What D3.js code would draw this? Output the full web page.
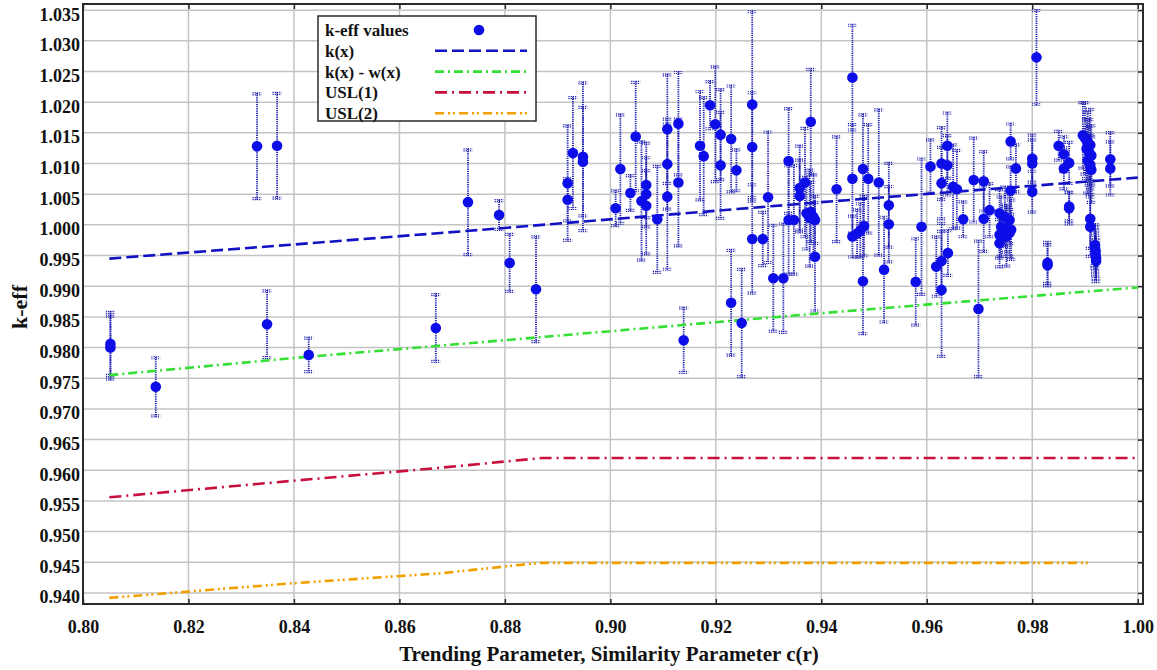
<!DOCTYPE html>
<html>
<head>
<meta charset="utf-8">
<script src="https://cdn.jsdelivr.net/npm/d3@7"></script>
<style>
body { margin: 0; background: #fff; }
text { font-family: "Liberation Serif", "Times New Roman", serif; font-weight: bold; }
</style>
</head>
<body>
<svg id="chart" width="1157" height="670"></svg>
<script>
//DATA/////////////////////////////////
var xTicks = [0.80, 0.82, 0.84, 0.86, 0.88, 0.90, 0.92, 0.94, 0.96, 0.98, 1.00];
var yTicks = [0.940, 0.945, 0.950, 0.955, 0.960, 0.965, 0.970, 0.975, 0.980, 0.985,
  0.990, 0.995, 1.000, 1.005, 1.010, 1.015, 1.020, 1.025, 1.030, 1.035];

// k-eff values: c(r), k-eff, 1 sigma
var keffX = [0.8052, 0.8052, 0.8138, 0.8330, 0.8368, 0.8349, 0.8428, 0.8669, 0.8730, 0.8789,
  0.8809, 0.8859, 0.8919, 0.8919, 0.8929, 0.8948, 0.8948, 0.9010, 0.9019, 0.9038,
  0.9048, 0.9059, 0.9068, 0.9068, 0.9068, 0.9089, 0.9108, 0.9108, 0.9108, 0.9129,
  0.9129, 0.9139, 0.9170, 0.9177, 0.9189, 0.9199, 0.9209, 0.9209, 0.9229, 0.9229,
  0.9239, 0.9249, 0.9269, 0.9269, 0.9269, 0.9289, 0.9299, 0.9309, 0.9328, 0.9338,
  0.9338, 0.9348, 0.9359, 0.9359, 0.9369, 0.9380, 0.9372, 0.9380, 0.9385, 0.9388,
  0.9378, 0.9388, 0.9429, 0.9459, 0.9459, 0.9459, 0.9468, 0.9474, 0.9481, 0.9479,
  0.9479, 0.9489, 0.9509, 0.9519, 0.9528, 0.9528, 0.9579, 0.9590, 0.9607, 0.9618,
  0.9628, 0.9640, 0.9628, 0.9628, 0.9639, 0.9628, 0.9639, 0.9650, 0.9657, 0.9669,
  0.9689, 0.9698, 0.9708, 0.9708, 0.9719, 0.9738, 0.9748, 0.9757, 0.9741, 0.9751,
  0.9760, 0.9738, 0.9751, 0.9757, 0.9738, 0.9759, 0.9769, 0.9759, 0.9800, 0.9800,
  0.9800, 0.9808, 0.9829, 0.9829, 0.9850, 0.9860, 0.9860, 0.9870, 0.9870, 0.9870,
  0.9896, 0.9900, 0.9905, 0.9910, 0.9903, 0.9908, 0.9912, 0.9905, 0.9910, 0.9912,
  0.9910, 0.9910, 0.9919, 0.9919, 0.9920, 0.9920, 0.9921, 0.9921, 0.9948, 0.9948];
var keffY = [0.9800, 0.9806, 0.9736, 1.0128, 1.0129, 0.9838, 0.9788, 0.9832, 1.0037, 1.0016,
  0.9938, 0.9895, 1.0068, 1.0041, 1.0117, 1.0111, 1.0103, 1.0027, 1.0091, 1.0052,
  1.0144, 1.0039, 1.0065, 1.0050, 1.0031, 1.0009, 1.0156, 1.0099, 1.0046, 1.0165,
  1.0069, 0.9812, 1.0129, 1.0112, 1.0195, 1.0164, 1.0147, 1.0097, 1.0140, 0.9873,
  1.0089, 0.9840, 1.0196, 1.0127, 0.9977, 0.9977, 1.0045, 0.9913, 0.9913, 1.0104,
  1.0008, 1.0008, 1.0060, 1.0047, 1.0069, 1.0168, 1.0019, 1.0021, 1.0013, 1.0008,
  1.0011, 0.9948, 1.0058, 1.0240, 1.0075, 0.9981, 0.9986, 0.9991, 0.9998, 1.0091,
  0.9908, 1.0075, 1.0069, 0.9927, 1.0032, 1.0001, 0.9907, 0.9997, 1.0095, 0.9932,
  0.9941, 0.9954, 0.9894, 1.0100, 1.0097, 1.0068, 1.0129, 1.0062, 1.0058, 1.0009,
  1.0073, 0.9863, 1.0071, 1.0010, 1.0024, 1.0019, 1.0013, 1.0008, 0.9997, 0.9994,
  0.9992, 0.9984, 0.9981, 0.9987, 0.9970, 1.0136, 1.0092, 1.0056, 1.0108, 1.0100,
  1.0054, 1.0273, 0.9934, 0.9938, 1.0129, 1.0115, 1.0092, 1.0101, 1.0027, 1.0030,
  1.0146, 1.0141, 1.0135, 1.0130, 1.0124, 1.0118, 1.0113, 1.0105, 1.0098, 1.0090,
  1.0010, 0.9997, 0.9967, 0.9963, 0.9958, 0.9952, 0.9946, 0.9941, 1.0107, 1.0092];
var keffSigma = [0.0053, 0.0053, 0.0049, 0.0087, 0.0087, 0.0056, 0.0029, 0.0056, 0.0087, 0.0025,
  0.0048, 0.0087, 0.0095, 0.0036, 0.0092, 0.0122, 0.0090, 0.0030, 0.0090, 0.0030,
  0.0090, 0.0098, 0.0070, 0.0040, 0.0080, 0.0088, 0.0090, 0.0075, 0.0120, 0.0085,
  0.0105, 0.0054, 0.0090, 0.0097, 0.0040, 0.0095, 0.0075, 0.0088, 0.0088, 0.0087,
  0.0035, 0.0089, 0.0153, 0.0090, 0.0090, 0.0045, 0.0108, 0.0088, 0.0090, 0.0087,
  0.0090, 0.0090, 0.0070, 0.0060, 0.0090, 0.0087, 0.0060, 0.0050, 0.0070, 0.0040,
  0.0080, 0.0090, 0.0087, 0.0087, 0.0090, 0.0035, 0.0040, 0.0045, 0.0050, 0.0090,
  0.0087, 0.0090, 0.0120, 0.0087, 0.0070, 0.0063, 0.0072, 0.0112, 0.0045, 0.0050,
  0.0050, 0.0038, 0.0110, 0.0060, 0.0050, 0.0060, 0.0055, 0.0070, 0.0065, 0.0030,
  0.0070, 0.0112, 0.0050, 0.0055, 0.0045, 0.0040, 0.0050, 0.0040, 0.0050, 0.0040,
  0.0050, 0.0040, 0.0050, 0.0040, 0.0040, 0.0030, 0.0040, 0.0040, 0.0040, 0.0040,
  0.0035, 0.0078, 0.0035, 0.0035, 0.0025, 0.0030, 0.0035, 0.0035, 0.0027, 0.0025,
  0.0055, 0.0060, 0.0050, 0.0060, 0.0050, 0.0055, 0.0050, 0.0055, 0.0050, 0.0055,
  0.0050, 0.0050, 0.0035, 0.0035, 0.0035, 0.0035, 0.0035, 0.0035, 0.0045, 0.0045];

// trend curves
var trendX = [0.805, 0.84, 0.88, 0.94, 1.00];
var kxY = [0.9945, 0.9968, 0.9995, 1.0037, 1.0077];
var kwY = [0.9755, 0.9783, 0.9812, 0.9856, 0.9898];
var usl1X = [0.805, 0.84, 0.8677, 0.887, 1.00];
var usl1Y = [0.9556, 0.9583, 0.9604, 0.9620, 0.9620];
var usl2X = [0.805, 0.84, 0.8677, 0.8865, 0.991];
var usl2Y = [0.9392, 0.9416, 0.9432, 0.9449, 0.9449];

var legendLabels = ["k-eff values", "k(x)", "k(x) - w(x)", "USL(1)", "USL(2)"];

//STYLES////////////////////////////////
var curveStyles = [
  { x: trendX, y: kxY, color: "#1212c4", dash: "12,5" },
  { x: trendX, y: kwY, color: "#33e033", dash: "9,4,2,4" },
  { x: usl1X, y: usl1Y, color: "#c8103c", dash: "12,5,2,5" },
  { x: usl2X, y: usl2Y, color: "#f2a000", dash: "9,4,2,3,2,4" }
];
var dotColor = "#0d0de8";
var barColor = "#1c1cb0";

//SCALES////////////////////////////////
var svg = d3.select("#chart");
var plotLeft = 83, plotRight = 1143, plotTop = 4, plotBottom = 604;
var x = d3.scaleLinear().domain([0.80, 1.001]).range([plotLeft, plotRight]);
var y = d3.scaleLinear().domain([0.9382, 1.036]).range([plotBottom, plotTop]);

//GRID//////////////////////////////////
var grid = svg.append("g");
grid.selectAll(".gx").data(xTicks).enter().append("line")
  .attr("x1", d => x(d)).attr("x2", d => x(d))
  .attr("y1", plotTop).attr("y2", plotBottom)
  .attr("stroke", "#c4c4c4").attr("stroke-width", 1.5);
grid.selectAll(".gy").data(yTicks).enter().append("line")
  .attr("x1", plotLeft).attr("x2", plotRight)
  .attr("y1", d => y(d)).attr("y2", d => y(d))
  .attr("stroke", "#c4c4c4").attr("stroke-width", 1.5);

//ERROR BARS////////////////////////////
var pts = keffX.map((d, i) => ({ x: d, y: keffY[i], s: keffSigma[i] }));
var bars = svg.append("g")
  .attr("stroke", barColor).attr("stroke-width", 1.8)
  .attr("stroke-dasharray", "1.2,1");
bars.selectAll(".bar").data(pts).enter().append("line")
  .attr("x1", d => x(d.x)).attr("x2", d => x(d.x))
  .attr("y1", d => y(d.y + d.s)).attr("y2", d => y(d.y - d.s));
[1, -1].forEach(function (sign) {
  [0, 2].forEach(function (off) {
    bars.selectAll(".cap").data(pts).enter().append("line")
      .attr("stroke-width", 1.2)
      .attr("x1", d => x(d.x) - 4.5).attr("x2", d => x(d.x) + 4.5)
      .attr("y1", d => y(d.y + sign * d.s) + sign * off)
      .attr("y2", d => y(d.y + sign * d.s) + sign * off);
  });
});

//CURVES////////////////////////////////
var line = d3.line().x(d => x(d[0])).y(d => y(d[1]));
curveStyles.forEach(function (c) {
  svg.append("path")
    .datum(c.x.map((d, i) => [d, c.y[i]]))
    .attr("d", line)
    .attr("fill", "none")
    .attr("stroke", c.color)
    .attr("stroke-width", 2.6)
    .attr("stroke-dasharray", c.dash);
});

//POINTS////////////////////////////////
svg.append("g").selectAll("circle").data(pts).enter().append("circle")
  .attr("cx", d => x(d.x)).attr("cy", d => y(d.y))
  .attr("r", 5.3).attr("fill", dotColor);

//FRAME + AXES//////////////////////////
svg.append("rect")
  .attr("x", plotLeft).attr("y", plotTop)
  .attr("width", plotRight - plotLeft).attr("height", plotBottom - plotTop)
  .attr("fill", "none").attr("stroke", "#2a2a2a").attr("stroke-width", 2);

function tickMarks(axis, tx, ty) {
  var g = svg.append("g").attr("transform", "translate(" + tx + "," + ty + ")").call(axis);
  g.select(".domain").remove();
  g.selectAll("line").attr("stroke", "#2a2a2a").attr("stroke-width", 1.5);
  g.selectAll("text").remove();
}
tickMarks(d3.axisTop(x).tickValues(xTicks).tickSize(-5), 0, plotTop);
tickMarks(d3.axisBottom(x).tickValues(xTicks).tickSize(-5), 0, plotBottom);
tickMarks(d3.axisRight(y).tickValues(yTicks).tickSize(-5), plotRight, 0);

var xAxis = svg.append("g")
  .attr("transform", "translate(0," + plotBottom + ")")
  .call(d3.axisBottom(x).tickValues(xTicks).tickFormat(d3.format(".2f")).tickSize(0).tickPadding(16));
xAxis.select(".domain").remove();
xAxis.selectAll("text").attr("font-size", 18).attr("fill", "#111")
  .style("font-family", "'Liberation Serif', serif").style("font-weight", "bold");

var yAxis = svg.append("g")
  .attr("transform", "translate(" + plotLeft + ",0)")
  .call(d3.axisLeft(y).tickValues(yTicks).tickFormat(d3.format(".3f")).tickSize(0).tickPadding(3));
yAxis.select(".domain").remove();
yAxis.selectAll("text").attr("font-size", 18).attr("fill", "#111").attr("dy", "0.55em")
  .style("font-family", "'Liberation Serif', serif").style("font-weight", "bold");

svg.append("text")
  .attr("x", (plotLeft + plotRight) / 2 - 4).attr("y", 661)
  .attr("text-anchor", "middle").attr("font-size", 21).attr("fill", "#111")
  .text("Trending Parameter, Similarity Parameter c(r)");

svg.append("text")
  .attr("transform", "translate(27,307) rotate(-90)")
  .attr("text-anchor", "middle").attr("font-size", 22).attr("fill", "#111")
  .text("k-eff");

//LEGEND///////////////////////////////
var legend = svg.append("g");
legend.append("rect")
  .attr("x", 318).attr("y", 16).attr("width", 218).attr("height", 105)
  .attr("fill", "#fff").attr("stroke", "#2a2a2a").attr("stroke-width", 1.5);
legendLabels.forEach(function (lab, i) {
  var ly = 30 + i * 20.8;
  legend.append("text")
    .attr("x", 325).attr("y", ly + 6)
    .attr("font-size", 17).attr("fill", "#111")
    .text(lab);
  if (i === 0) {
    legend.append("circle").attr("cx", 479).attr("cy", ly).attr("r", 5.3).attr("fill", dotColor);
  } else {
    var c = curveStyles[i - 1];
    legend.append("line")
      .attr("x1", 435).attr("x2", 527).attr("y1", ly).attr("y2", ly)
      .attr("stroke", c.color).attr("stroke-width", 2.6)
      .attr("stroke-dasharray", c.dash);
  }
});
</script>
</body>
</html>
